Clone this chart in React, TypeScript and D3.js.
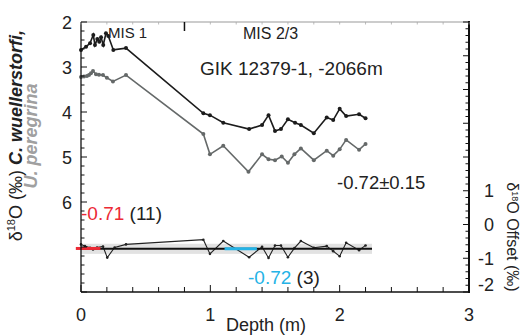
import React, { useEffect, useRef } from "react";
import * as d3 from "d3";

// C. wuellerstorfi (black) - depth (m), d18O (permil)
const wuelDepth = [0, 0.039, 0.07, 0.095, 0.108, 0.126, 0.141, 0.155, 0.172, 0.193, 0.211, 0.25, 0.348,
  0.946, 0.997, 1.1, 1.3, 1.4, 1.45, 1.5, 1.546, 1.6, 1.655, 1.7, 1.8, 1.9, 1.95, 2.0, 2.05, 2.15, 2.2];
const wuelValue = [2.62, 2.55, 2.47, 2.29, 2.51, 2.38, 2.44, 2.34, 2.51, 2.25, 2.31, 2.62, 2.58,
  4.03, 4.07, 4.24, 4.38, 4.29, 4.07, 4.42, 4.38, 4.16, 4.24, 4.29, 4.47, 4.12, 4.18, 3.93, 4.09, 4.05, 4.14];

// U. peregrina (grey)
const pereDepth = [0, 0.023, 0.046, 0.062, 0.077, 0.093, 0.116, 0.139, 0.17, 0.2, 0.247, 0.348,
  0.946, 0.997, 1.1, 1.295, 1.4, 1.45, 1.5, 1.552, 1.6, 1.65, 1.7, 1.8, 1.9, 1.95, 2.0, 2.05, 2.15, 2.2];
const pereValue = [3.22, 3.21, 3.2, 3.18, 3.14, 3.09, 3.16, 3.17, 3.18, 3.24, 3.32, 3.18,
  4.49, 4.94, 4.75, 5.33, 4.94, 5.05, 5.07, 4.99, 5.13, 4.94, 4.81, 5.07, 4.86, 4.97, 4.83, 4.62, 4.84, 4.71];

// offset (right axis)
const offDepth = [0, 0.03, 0.07, 0.093, 0.108, 0.124, 0.17, 0.203, 0.26, 0.348,
  0.946, 0.997, 1.1, 1.3, 1.4, 1.45, 1.5, 1.546, 1.6, 1.65, 1.7, 1.8, 1.9, 1.95, 2.0, 2.05, 2.15, 2.2];
const offValue = [-0.59, -0.64, -0.69, -0.74, -0.71, -0.68, -0.65, -0.98, -0.68, -0.59,
  -0.45, -0.87, -0.49, -0.97, -0.66, -0.99, -0.62, -0.62, -0.97, -0.7, -0.49, -0.69, -0.64, -0.79, -0.94, -0.54, -0.76, -0.62];

const meanOffset = -0.72;
const offsetSd = 0.15;
const bandRange = [0, 2.25];
const holoceneRange = [-0.04, 0.15];
const glacialRange = [1.11, 1.36];

const xTicks = [0, 1, 2, 3];
const leftTicks = [2, 3, 4, 5, 6];
const rightTicks = [1, 0, -1, -2];

export default function App() {
  const ref = useRef<SVGSVGElement>(null);

  useEffect(() => {
    const svg = d3.select(ref.current);
    svg.selectAll("*").remove();

    const left = 81, right = 469, top = 22, bottom = 292;
    const font = "'Liberation Sans', Arial, sans-serif";

    const x = d3.scaleLinear().domain([0, 3]).range([left, right]);
    const y = d3.scaleLinear().domain([2, 8]).range([top, bottom]);
    const y2 = d3.scaleLinear().domain([-2, 6]).range([bottom, top]);

    // band +- sd
    svg.append("rect")
      .attr("x", x(bandRange[0]))
      .attr("width", x(bandRange[1]) - x(bandRange[0]))
      .attr("y", y2(meanOffset + offsetSd))
      .attr("height", y2(meanOffset - offsetSd) - y2(meanOffset + offsetSd))
      .attr("fill", "#e2e2e2");

    // offset series
    const offData = offDepth.map((d, i) => [d, offValue[i]] as [number, number]);
    svg.append("path")
      .datum(offData)
      .attr("d", d3.line<[number, number]>().x(d => x(d[0])).y(d => y2(d[1])))
      .attr("fill", "none")
      .attr("stroke", "#222")
      .attr("stroke-width", 1.1);
    svg.append("g").selectAll("circle").data(offData).enter().append("circle")
      .attr("cx", d => x(d[0])).attr("cy", d => y2(d[1])).attr("r", 1.3).attr("fill", "#222");

    // mean line
    svg.append("line")
      .attr("x1", x(bandRange[0])).attr("x2", x(bandRange[1]))
      .attr("y1", y2(meanOffset)).attr("y2", y2(meanOffset))
      .attr("stroke", "#111").attr("stroke-width", 2);
    svg.append("line")
      .attr("x1", x(holoceneRange[0])).attr("x2", x(holoceneRange[1]))
      .attr("y1", y2(-0.71)).attr("y2", y2(-0.71))
      .attr("stroke", "#ec2a35").attr("stroke-width", 3);
    svg.append("line")
      .attr("x1", x(glacialRange[0])).attr("x2", x(glacialRange[1]))
      .attr("y1", y2(meanOffset)).attr("y2", y2(meanOffset))
      .attr("stroke", "#25b3e6").attr("stroke-width", 3);

    // isotope series
    const series = [
      { depth: pereDepth, value: pereValue, color: "#656969" },
      { depth: wuelDepth, value: wuelValue, color: "#1c1c1c" }
    ];
    series.forEach(s => {
      const data = s.depth.map((d, i) => [d, s.value[i]] as [number, number]);
      svg.append("path")
        .datum(data)
        .attr("d", d3.line<[number, number]>().x(d => x(d[0])).y(d => y(d[1])))
        .attr("fill", "none")
        .attr("stroke", s.color)
        .attr("stroke-width", 1.6);
      svg.append("g").selectAll("circle").data(data).enter().append("circle")
        .attr("cx", d => x(d[0])).attr("cy", d => y(d[1])).attr("r", 2).attr("fill", s.color);
    });

    // frame
    svg.append("line").attr("x1", left).attr("x2", right).attr("y1", top).attr("y2", top)
      .attr("stroke", "#999").attr("stroke-width", 1);
    svg.append("line").attr("x1", left).attr("x2", left).attr("y1", top).attr("y2", bottom)
      .attr("stroke", "#111").attr("stroke-width", 1.3);
    svg.append("line").attr("x1", right).attr("x2", right).attr("y1", top - 1).attr("y2", bottom + 1)
      .attr("stroke", "#111").attr("stroke-width", 2);
    svg.append("line").attr("x1", left).attr("x2", right + 1).attr("y1", bottom).attr("y2", bottom)
      .attr("stroke", "#111").attr("stroke-width", 1.5);

    const minor = (a: number, b: number) => d3.range(Math.round(a * 5), Math.round(b * 5) + 1).map(v => v / 5);

    // bottom + top ticks
    minor(0, 3).forEach(t => {
      const major = Math.abs(t - Math.round(t)) < 1e-6;
      svg.append("line").attr("x1", x(t)).attr("x2", x(t))
        .attr("y1", bottom).attr("y2", bottom - (major ? 7 : 5))
        .attr("stroke", "#111").attr("stroke-width", 1);
      svg.append("line").attr("x1", x(t)).attr("x2", x(t))
        .attr("y1", top).attr("y2", top + 2.5)
        .attr("stroke", "#aaa").attr("stroke-width", 0.8);
    });
    // left ticks
    minor(2, 8).forEach(t => {
      const major = Math.abs(t - Math.round(t)) < 1e-6;
      svg.append("line").attr("x1", left).attr("x2", left + (major ? 6 : 3.5))
        .attr("y1", y(t)).attr("y2", y(t))
        .attr("stroke", "#111").attr("stroke-width", 1);
    });
    // right ticks
    minor(-2, 6).forEach(t => {
      const major = Math.abs(t - Math.round(t)) < 1e-6;
      svg.append("line").attr("x1", right).attr("x2", right - (major ? 6 : 3.5))
        .attr("y1", y2(t)).attr("y2", y2(t))
        .attr("stroke", "#111").attr("stroke-width", 1);
    });

    // MIS boundary marker
    svg.append("line").attr("x1", x(0.8)).attr("x2", x(0.8)).attr("y1", top).attr("y2", top + 9)
      .attr("stroke", "#111").attr("stroke-width", 1.5);

    const txt = (s: string, px: number, py: number, size: number, anchor = "start", fill = "#222") =>
      svg.append("text").attr("x", px).attr("y", py).attr("font-size", size)
        .attr("font-family", font).attr("text-anchor", anchor).attr("fill", fill).text(s);

    // tick labels
    xTicks.forEach(t => txt(String(t), x(t), 321, 18, "middle"));
    leftTicks.forEach(t => txt(String(t), 72, y(t) + 6.5, 18, "end"));
    rightTicks.forEach(t => txt(String(t), 494, (t === -2 ? y2(t) - 8 : y2(t)) + 6.5, 18, "end"));

    // annotations
    txt("MIS 1", 108, 38, 15);
    txt("MIS 2/3", 243, 39, 16);
    txt("GIK 12379-1, -2066m", 200, 75, 19);
    txt("-0.72\u00b10.15", 337, 189, 18.5);
    const a = txt("", 81, 220, 19);
    a.append("tspan").attr("fill", "#ec2a35").text("-0.71");
    a.append("tspan").text(" (11)");
    const b = txt("", 248, 284, 19);
    b.append("tspan").attr("fill", "#25b3e6").text("-0.72");
    b.append("tspan").text(" (3)");
    txt("Depth (m)", 266, 331, 18, "middle");

    // left axis title
    const l1 = svg.append("text").attr("transform", "translate(22,30) rotate(-90)")
      .attr("font-family", font).attr("font-size", 18).attr("text-anchor", "end").attr("fill", "#222");
    l1.append("tspan").text("\u03b4");
    l1.append("tspan").attr("font-size", 11).attr("dy", -7).text("18");
    l1.append("tspan").attr("dy", 7).text("O (\u2030) ");
    l1.append("tspan").attr("font-weight", "bold").attr("font-style", "italic").text("C. wuellerstorfi,");
    svg.append("text").attr("transform", "translate(37,136) rotate(-90)")
      .attr("font-family", font).attr("font-size", 18).attr("text-anchor", "middle")
      .attr("font-weight", "bold").attr("font-style", "italic").attr("fill", "#a0a0a0")
      .text("U. peregrina");

    // right axis title
    const r1 = svg.append("text").attr("transform", "translate(507,237) rotate(90)")
      .attr("font-family", font).attr("font-size", 16).attr("text-anchor", "middle").attr("fill", "#222");
    r1.append("tspan").text("\u03b4");
    r1.append("tspan").attr("font-size", 9).attr("dy", -5).text("18");
    r1.append("tspan").attr("dy", 5).text("O Offset (\u2030)");
  }, []);

  return (
    <svg ref={ref} width={523} height={335}
      style={{ position: "absolute", left: 0, top: 0, background: "#fff" }} />
  );
}
